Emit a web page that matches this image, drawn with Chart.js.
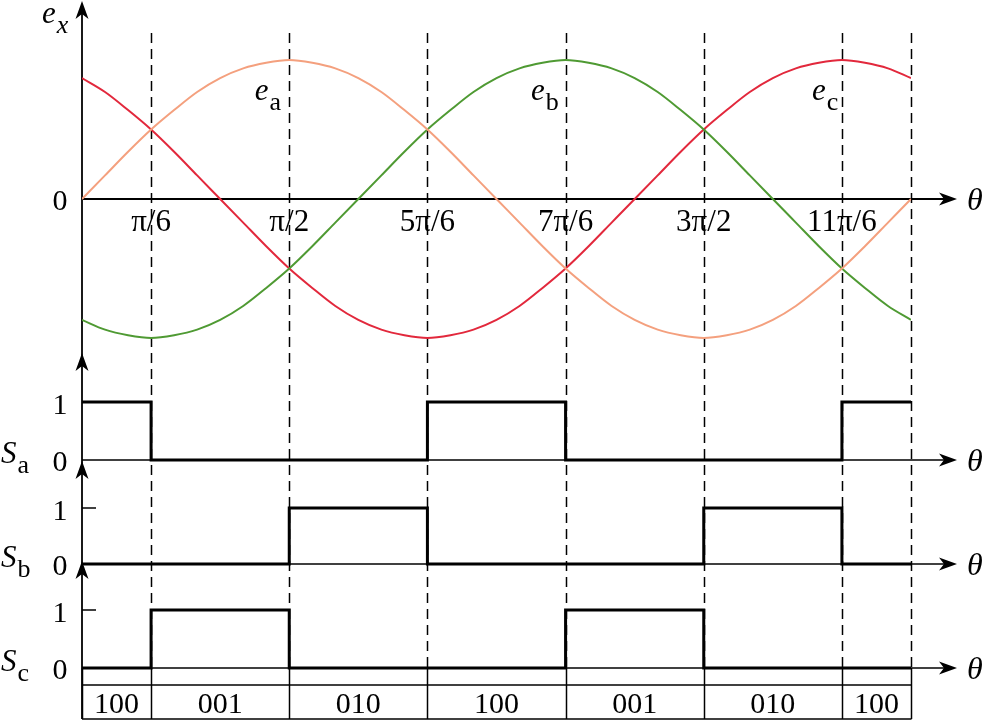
<!DOCTYPE html>
<html>
<head>
<meta charset="utf-8">
<script src="https://cdn.jsdelivr.net/npm/chart.js@4"></script>
<style>
  html, body { margin: 0; padding: 0; background: #fff; }
  #wrap { position: relative; width: 986px; height: 720px; }
</style>
</head>
<body>
<div id="wrap"><canvas id="chart" width="986" height="720"></canvas></div>
<script>
// θ in degrees, one sample every 10°
const theta = [0, 10, 20, 30, 40, 50, 60, 70, 80, 90, 100, 110, 120, 130, 140, 150, 160, 170, 180,
               190, 200, 210, 220, 230, 240, 250, 260, 270, 280, 290, 300, 310, 320, 330, 340, 350, 360];

// phase EMFs (per unit)
const eA = [0, .17, .34, .5, .64, .77, .87, .94, .98, 1, .98, .94, .87, .77, .64, .5, .34, .17, 0,
            -.17, -.34, -.5, -.64, -.77, -.87, -.94, -.98, -1, -.98, -.94, -.87, -.77, -.64, -.5, -.34, -.17, 0];
const eB = [-.87, -.94, -.98, -1, -.98, -.94, -.87, -.77, -.64, -.5, -.34, -.17, 0, .17, .34, .5, .64, .77, .87,
            .94, .98, 1, .98, .94, .87, .77, .64, .5, .34, .17, 0, -.17, -.34, -.5, -.64, -.77, -.87];
const eC = [.87, .77, .64, .5, .34, .17, 0, -.17, -.34, -.5, -.64, -.77, -.87, -.94, -.98, -1, -.98, -.94, -.87,
            -.77, -.64, -.5, -.34, -.17, 0, .17, .34, .5, .64, .77, .87, .94, .98, 1, .98, .94, .87];

// switching signals: θ where the level changes, level held from that θ on
const saTheta = [0, 30, 150, 210, 330, 360];
const saLevel = [1, 0, 1, 0, 1, 1];
const sbTheta = [0, 90, 150, 270, 330, 360];
const sbLevel = [0, 1, 0, 1, 0, 0];
const scTheta = [0, 30, 90, 210, 270, 360];
const scLevel = [0, 1, 0, 1, 0, 0];

// tick labels on the θ axis
const tickTheta = [30, 90, 150, 210, 270, 330];
const tickLabels = ["π/6", "π/2", "5π/6", "7π/6", "3π/2", "11π/6"];

// sectors and their switch codes
const sectorEdges = [0, 30, 90, 150, 210, 270, 330, 360];
const sectorCodes = ["100", "001", "010", "100", "001", "010", "100"];

// where the curve names sit
const nameTheta = [75, 195, 317];
const nameSub = ["a", "b", "c"];

const W = 986, H = 720;
const FONT = '"Liberation Serif", serif';
const AXIS_RIGHT = 957;

// pixel rows: zero line and size of one unit, for each panel
const rows = {
  ye: { zero: 199, unit: 139 },
  ya: { zero: 460, unit: 58 },
  yb: { zero: 564, unit: 56 },
  yc: { zero: 668, unit: 58 }
};

function range(r) {
  return { min: -(H - r.zero) / r.unit, max: r.zero / r.unit, display: false };
}

function pts(xs, ys) {
  return xs.map((x, i) => ({ x: x, y: ys[i] }));
}

function curve(data, color) {
  return {
    data: data, yAxisID: 'ye', borderColor: color, borderWidth: 2,
    pointRadius: 0, cubicInterpolationMode: 'monotone', fill: false
  };
}

// chart.js 'before': run flat at the old level, then jump at the next point
function step(data, axis) {
  return {
    data: data, yAxisID: axis, borderColor: '#000', borderWidth: 3,
    pointRadius: 0, stepped: 'before', fill: false
  };
}

function arrow(ctx, x, y, dir) {
  ctx.save();
  ctx.translate(x, y);
  if (dir === 'right') ctx.rotate(Math.PI / 2);
  ctx.beginPath();
  ctx.moveTo(0, 0);
  ctx.lineTo(-6.5, 18);
  ctx.lineTo(0, 13);
  ctx.lineTo(6.5, 18);
  ctx.closePath();
  ctx.fillStyle = '#000';
  ctx.fill();
  ctx.restore();
}

function line(ctx, x1, y1, x2, y2) {
  ctx.beginPath();
  ctx.moveTo(x1, y1);
  ctx.lineTo(x2, y2);
  ctx.stroke();
}

// italic symbol with a subscript
function symbol(ctx, main, sub, x, y, subItalic) {
  ctx.textAlign = 'left';
  ctx.textBaseline = 'alphabetic';
  ctx.font = 'italic 31px ' + FONT;
  ctx.fillText(main, x, y);
  const w = ctx.measureText(main).width;
  ctx.font = (subItalic ? 'italic ' : '') + '26px ' + FONT;
  ctx.fillText(sub, x + w + 1, y + 10);
}

const drawing = {
  id: 'drawing',
  beforeDatasetsDraw(chart) {
    const ctx = chart.ctx;
    const sx = chart.scales.x;
    const left = sx.getPixelForValue(0);
    const right = sx.getPixelForValue(360);
    const tableTop = 685, tableBottom = 719;

    ctx.save();
    ctx.strokeStyle = '#000';

    // dashed sector lines
    ctx.lineWidth = 1.5;
    ctx.setLineDash([10, 6]);
    sectorEdges.slice(1).forEach(t => {
      const px = Math.round(sx.getPixelForValue(t)) + 0.5;
      line(ctx, px, 33, px, rows.yc.zero);
    });
    ctx.setLineDash([]);

    // table
    sectorEdges.forEach(t => {
      const px = Math.round(sx.getPixelForValue(t)) + 0.5;
      line(ctx, px, rows.yc.zero, px, tableBottom);
    });
    line(ctx, left, tableTop, right, tableTop);
    line(ctx, left, tableBottom, right + 0.5, tableBottom);

    // vertical axis
    ctx.lineWidth = 1.8;
    line(ctx, left, 6, left, tableBottom);
    arrow(ctx, left, 1, 'up');

    // θ axes
    line(ctx, left, rows.ye.zero, AXIS_RIGHT - 6, rows.ye.zero);
    arrow(ctx, AXIS_RIGHT, rows.ye.zero, 'right');
    ['ya', 'yb', 'yc'].forEach(k => {
      const y0 = rows[k].zero;
      ctx.lineWidth = 1.3;
      line(ctx, left, y0, AXIS_RIGHT - 6, y0);
      arrow(ctx, AXIS_RIGHT, y0, 'right');
      arrow(ctx, left, y0 - 2 * rows[k].unit + 9, 'up');
      // tick at level 1
      const y1 = chart.scales[k].getPixelForValue(1);
      ctx.lineWidth = 1.5;
      line(ctx, left, y1, left + 14, y1);
    });
    ctx.restore();
  },
  afterDatasetsDraw(chart) {
    const ctx = chart.ctx;
    const sx = chart.scales.x;
    const ye = chart.scales.ye;
    ctx.save();
    ctx.fillStyle = '#000';

    // e_x and curve names
    symbol(ctx, 'e', 'x', 42, 23, true);
    nameTheta.forEach((t, i) => {
      symbol(ctx, 'e', nameSub[i], sx.getPixelForValue(t), ye.getPixelForValue(0.71), false);
    });

    // zero label of top panel
    ctx.font = '30px ' + FONT;
    ctx.textAlign = 'center';
    ctx.fillText('0', 60, rows.ye.zero + 11);

    // θ tick labels
    ctx.font = '31px ' + FONT;
    tickTheta.forEach((t, i) => {
      ctx.fillText(tickLabels[i], sx.getPixelForValue(t), rows.ye.zero + 32);
    });

    // θ axis names
    ctx.font = 'italic 32px ' + FONT;
    ctx.textAlign = 'left';
    ['ye', 'ya', 'yb', 'yc'].forEach(k => {
      ctx.fillText('θ', 967, rows[k].zero + 11);
    });

    // switching panels: names and 0 / 1 levels
    ['ya', 'yb', 'yc'].forEach((k, i) => {
      const y0 = rows[k].zero;
      const y1 = chart.scales[k].getPixelForValue(1);
      symbol(ctx, 'S', nameSub[i], 1, y0 + 3, false);
      ctx.font = '30px ' + FONT;
      ctx.textAlign = 'center';
      ctx.fillText('0', 60, y0 + 11);
      ctx.fillText('1', 60, y1 + 12);
    });

    // sector codes
    ctx.font = '30px ' + FONT;
    ctx.textAlign = 'center';
    sectorCodes.forEach((c, i) => {
      const mid = (sx.getPixelForValue(sectorEdges[i]) + sx.getPixelForValue(sectorEdges[i + 1])) / 2;
      ctx.fillText(c, mid, 713);
    });
    ctx.restore();
  }
};

function build() {
  new Chart(document.getElementById('chart'), {
    type: 'line',
    data: {
      datasets: [
        curve(pts(theta, eA), '#F4A07E'),
        curve(pts(theta, eB), '#4F9A33'),
        curve(pts(theta, eC), '#E2283C'),
        step(pts(saTheta, saLevel), 'ya'),
        step(pts(sbTheta, sbLevel), 'yb'),
        step(pts(scTheta, scLevel), 'yc')
      ]
    },
    options: {
      responsive: false,
      devicePixelRatio: 1,
      animation: false,
      layout: { padding: { left: 82, right: W - 911, top: 0, bottom: 0 } },
      scales: {
        x: { type: 'linear', min: 0, max: 360, display: false },
        ye: range(rows.ye),
        ya: range(rows.ya),
        yb: range(rows.yb),
        yc: range(rows.yc)
      },
      plugins: { legend: { display: false }, tooltip: { enabled: false } }
    },
    plugins: [drawing]
  });
}

Promise.all([
  document.fonts.load('30px "Liberation Serif"'),
  document.fonts.load('italic 30px "Liberation Serif"')
]).then(build, build);
</script>
</body>
</html>
